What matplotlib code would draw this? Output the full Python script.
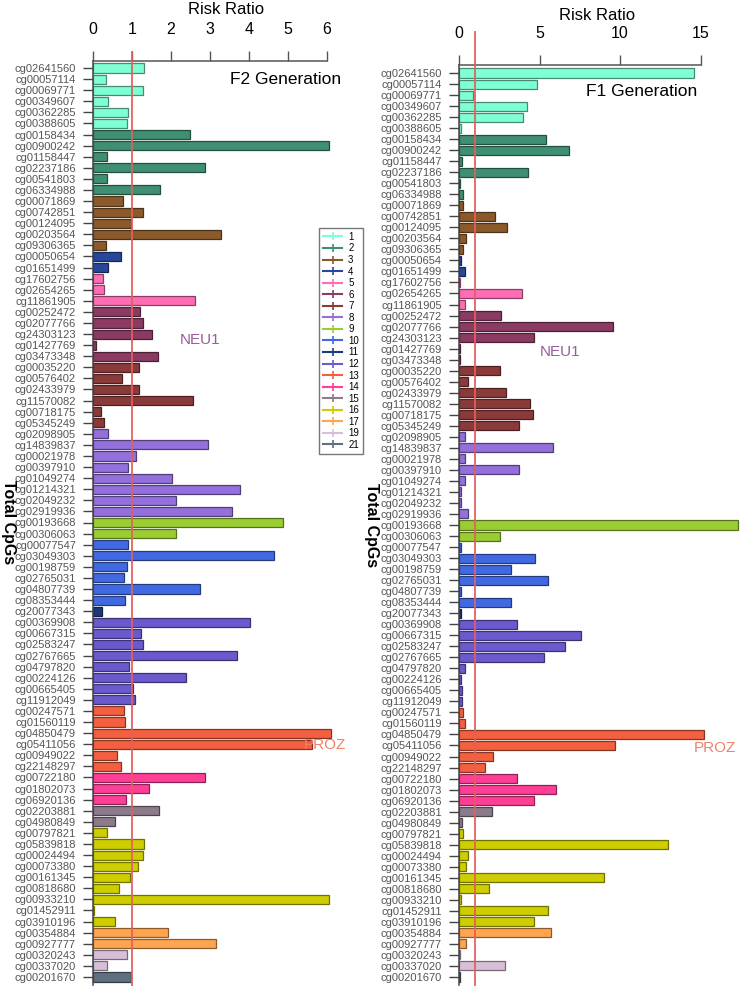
import matplotlib
matplotlib.use("Agg")
import matplotlib.pyplot as plt
from matplotlib.lines import Line2D
import matplotlib.colors as mcolors
import numpy as np

probes = ["cg02641560","cg00057114","cg00069771","cg00349607","cg00362285","cg00388605",
          "cg00158434","cg00900242","cg01158447","cg02237186","cg00541803","cg06334988",
          "cg00071869","cg00742851","cg00124095","cg00203564","cg09306365",
          "cg00050654","cg01651499",
          "cg17602756","cg02654265","cg11861905",
          "cg00252472","cg02077766","cg24303123","cg01427769","cg03473348",
          "cg00035220","cg00576402","cg02433979","cg11570082","cg00718175","cg05345249",
          "cg02098905","cg14839837","cg00021978","cg00397910","cg01049274","cg01214321","cg02049232","cg02919936",
          "cg00193668","cg00306063",
          "cg00077547","cg03049303","cg00198759","cg02765031","cg04807739","cg08353444",
          "cg20077343",
          "cg00369908","cg00667315","cg02583247","cg02767665","cg04797820","cg00224126","cg00665405","cg11912049",
          "cg00247571","cg01560119","cg04850479","cg05411056","cg00949022","cg22148297",
          "cg00722180","cg01802073","cg06920136",
          "cg02203881","cg04980849",
          "cg00797821","cg05839818","cg00024494","cg00073380","cg00161345","cg00818680","cg00933210","cg01452911","cg03910196",
          "cg00354884","cg00927777",
          "cg00320243","cg00337020",
          "cg00201670"]

chrom = ([1]*6 + [2]*6 + [3]*5 + [4]*2 + [5]*3 + [6]*5 + [7]*6 + [8]*8 + [9]*2 + [10]*6 +
         [11]*1 + [12]*8 + [13]*6 + [14]*3 + [15]*2 + [16]*9 + [17]*2 + [19]*2 + [21]*1)

f2_rr = [1.31,0.32,1.27,0.39,0.90,0.87,
         2.49,6.05,0.34,2.88,0.34,1.71,
         0.77,1.27,0.97,3.29,0.32,
         0.70,0.39,
         0.26,0.28,2.62,
         1.20,1.29,1.51,0.08,1.66,
         1.17,0.75,1.17,2.57,0.19,0.27,
         0.39,2.96,1.10,0.88,2.03,3.78,2.13,3.57,
         4.88,2.13,
         0.90,4.65,0.87,0.78,2.75,0.81,
         0.22,
         4.04,1.23,1.27,3.70,0.92,2.39,1.03,1.08,
         0.79,0.81,6.12,5.63,0.62,0.70,
         2.88,1.44,0.83,
         1.68,0.57,
         0.34,1.30,1.29,1.14,0.94,0.67,6.07,0.03,0.55,
         1.93,3.16,
         0.86,0.36,
         0.98]

f1_rr = [14.6,4.82,0.87,4.20,4.00,0.14,
         5.40,6.83,0.21,4.27,0.08,0.27,
         0.27,2.24,2.98,0.43,0.27,
         0.14,0.35,
         0.08,3.93,0.39,
         2.63,9.57,4.64,0.08,0.08,
         2.57,0.56,2.92,4.41,4.60,3.71,
         0.35,5.84,0.35,3.75,0.35,0.14,0.14,0.56,
         17.3,2.57,
         0.14,4.70,3.23,5.53,0.12,3.23,
         0.12,
         3.62,7.58,6.58,5.28,0.35,0.10,0.21,0.21,
         0.25,0.39,15.2,9.7,2.13,1.61,
         3.62,6.02,4.64,
         2.07,0.21,
         0.27,13.0,0.56,0.46,9.0,1.88,0.10,5.53,4.66,
         5.71,0.41,
         0.08,2.86,
         0.08]

legend_chroms = [1,2,3,4,5,6,7,8,9,10,11,12,13,14,15,16,17,19,21]
chrom_colors = ["#7FFFD4","#3F8F72","#8B5A2B","#27479B","#FF6EB4","#8B3A62","#8B3A3A",
                "#9370DB","#9ACD32","#4169E1","#1C3A78","#6A5ACD","#F4603F","#FF3E96",
                "#8B7B8B","#CDCD00","#FFA54F","#D8BFD8","#5F6F7F"]
cmap = dict(zip(legend_chroms, chrom_colors))

def darker(c, f=0.55):
    r, g, b = mcolors.to_rgb(c)
    return (r*f, g*f, b*f)

W, H = 741, 992
fig = plt.figure(figsize=(W/100, H/100), dpi=100)

label_font = ['Liberation Sans', 'DejaVu Sans']
plt.rcParams['font.family'] = ['Liberation Sans', 'DejaVu Sans']

def make_panel(x0, x1, y_top, y_bot, xmax, vals, ticks, spine_max, first_c, last_c, red_top):
    ax = fig.add_axes([x0/W, 1 - y_bot/H, (x1-x0)/W, (y_bot-y_top)/H])
    n = len(probes)
    y = np.arange(n)
    sp = (last_c - first_c) / (n - 1)
    ax.set_ylim(n - 1 + (y_bot - last_c)/sp, -(first_c - y_top)/sp)
    ax.set_xlim(0, xmax)
    cols = [cmap[c] for c in chrom]
    ax.barh(y, vals, height=0.82, color=cols,
            edgecolor=[darker(c) for c in cols], linewidth=0.9, zorder=2)
    ax.axvline(1, ymin=0, ymax=1 + (y_top - red_top)/(y_bot - y_top), color="#E06060",
               lw=1.4, clip_on=False, zorder=3, alpha=0.9)
    ax.xaxis.tick_top()
    ax.set_xticks(ticks)
    ax.set_xticklabels([str(t) for t in ticks], fontsize=11.5)
    ax.tick_params(axis='x', length=7, width=1, color='#555555', pad=10)
    ax.set_yticks(y)
    ax.set_yticklabels(probes, fontsize=8, color='#555555', family=label_font)
    ax.tick_params(axis='y', length=7, width=1, color='#444444', pad=5.5)
    for s in ['right', 'bottom']:
        ax.spines[s].set_visible(False)
    ax.spines['top'].set_bounds(0, spine_max)
    ax.spines['top'].set_color('#555555')
    ax.spines['left'].set_color('#444444')
    ax.spines['top'].set_linewidth(1.1)
    ax.spines['left'].set_linewidth(1.1)
    ax.patch.set_alpha(0)
    return ax

axL = make_panel(93.3, 340, 61, 985, (340-93.3)/38.9, f2_rr, [0,1,2,3,4,5,6], 6, 68, 977, 52)
axR = make_panel(459, 741, 65, 985, (741-459)/16.11, f1_rr, [0,5,10,15], 15, 73, 977, 32)

# titles and annotations
fig.text(226/W, 1-9/H, "Risk Ratio", fontsize=12, ha='center', va='center')
fig.text(597/W, 1-15/H, "Risk Ratio", fontsize=12, ha='center', va='center')
fig.text(286/W, 1-80/H, "F2 Generation", fontsize=12.5, ha='center', va='center')
fig.text(642/W, 1-92/H, "F1 Generation", fontsize=12.5, ha='center', va='center')
fig.text(200/W, 1-340/H, "NEU1", fontsize=11, ha='center', va='center', color='#9B5A9B')
fig.text(560/W, 1-352/H, "NEU1", fontsize=11, ha='center', va='center', color='#9B5A9B')
fig.text(325/W, 1-745/H, "PROZ", fontsize=11, ha='center', va='center', color='#F08068')
fig.text(715/W, 1-748/H, "PROZ", fontsize=11, ha='center', va='center', color='#F08068')
fig.text(8/W, 1-522/H, "Total CpGs", fontsize=11.5, ha='center', va='center', rotation=270, fontweight='bold')
fig.text(372/W, 1-525/H, "Total CpGs", fontsize=11.5, ha='center', va='center', rotation=270, fontweight='bold')

handles = [Line2D([0], [0], color=cmap[c], marker='+', markersize=6, lw=1.5,
                  markeredgewidth=1.2) for c in legend_chroms]
leg = fig.legend(handles, [str(c) for c in legend_chroms], loc='upper left',
                 bbox_to_anchor=(319/W, 1-228/H), fontsize=7, frameon=True,
                 fancybox=False, edgecolor='#555555', handlelength=2.0,
                 handletextpad=0.6, labelspacing=0.16, borderpad=0.4, borderaxespad=0)
leg.get_frame().set_linewidth(1.0)

fig.savefig("out.png", dpi=100)
